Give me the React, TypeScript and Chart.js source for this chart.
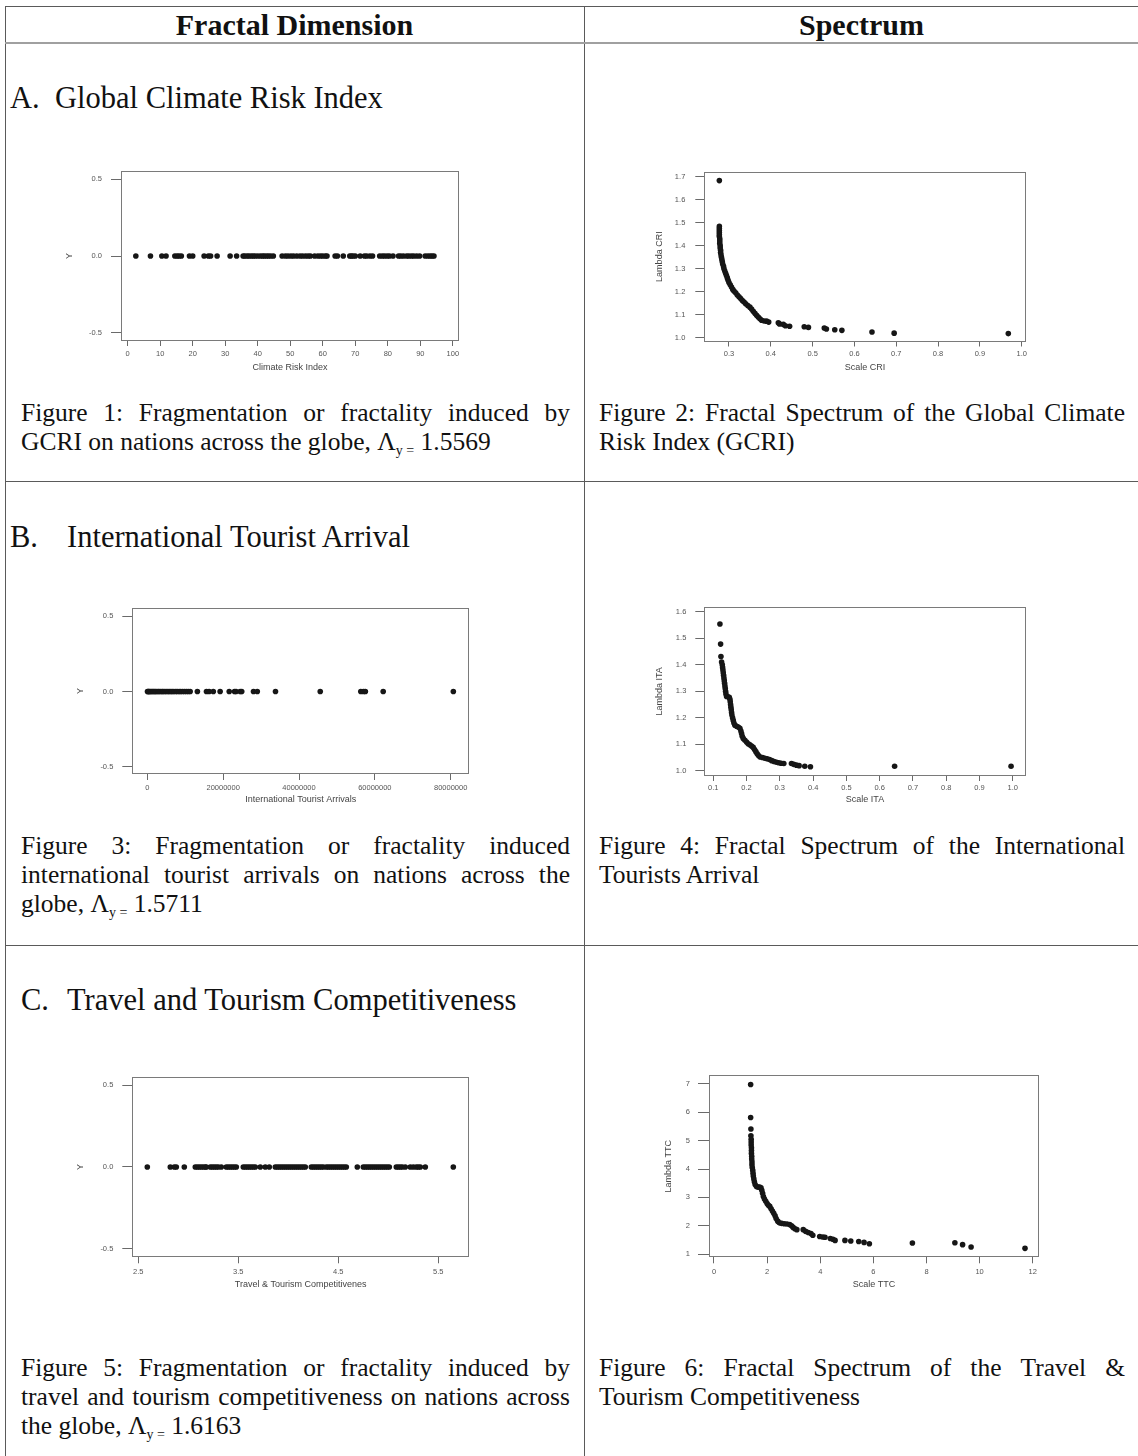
import React, { useEffect, useRef } from "react";
import { Chart, registerables } from "chart.js";

Chart.register(...registerables);

// ---------------- DATA ----------------
// Figure 1: Global Climate Risk Index (strip plot, Y = 0)
const criIndex = [
  2.5, 7.0, 10.5, 11.8, 14.5, 15.2, 15.8, 16.5, 19.0, 20.0, 23.5, 24.8, 25.5, 27.5, 31.5, 33.5,
  35.5, 36.0, 36.7, 37.3, 38.0, 38.6, 39.2, 40.0, 40.8, 41.5, 42.0, 42.7, 43.3, 44.0, 44.8,
  47.5, 48.5, 49.3, 50.2, 51.0, 52.0, 53.0, 53.8, 54.7, 55.5, 56.2, 57.5, 58.5, 59.3, 60.0,
  60.8, 61.3, 63.8, 64.5, 66.3, 68.3, 68.8, 69.3, 70.0, 71.5, 72.8, 73.5, 74.5, 75.3, 77.5,
  78.3, 79.0, 79.8, 80.5, 81.6, 83.3, 84.0, 84.8, 85.8, 86.5, 87.3, 88.0, 88.9, 89.8, 91.5,
  92.3, 93.0, 93.6, 94.2,
];
const criTicks = [0, 10, 20, 30, 40, 50, 60, 70, 80, 90, 100];

// Figure 3: International Tourist Arrivals (strip plot, Y = 0)
const itaArrivals = [
  0.05e6, 0.2e6, 0.4e6, 0.6e6, 0.9e6, 1.2e6, 1.5e6, 1.8e6, 2.1e6, 2.4e6, 2.8e6, 3.1e6, 3.5e6,
  3.9e6, 4.2e6, 4.6e6, 5.0e6, 5.4e6, 5.8e6, 6.2e6, 6.6e6, 7.0e6, 7.5e6, 7.9e6, 8.4e6, 8.8e6,
  9.3e6, 9.8e6, 10.3e6, 10.8e6, 11.3e6, 13.2e6, 15.6e6, 16.3e6, 17.4e6, 19.2e6, 21.6e6, 23.0e6,
  23.4e6, 24.5e6, 24.9e6, 28.0e6, 29.0e6, 33.8e6, 45.6e6, 56.3e6, 57.0e6, 57.5e6, 62.2e6, 80.7e6,
];
const itaTicks = [0, 20000000, 40000000, 60000000, 80000000];

// Figure 5: Travel & Tourism Competitiveness (strip plot, Y = 0)
const ttcScores = [
  2.59, 2.82, 2.86, 2.88, 2.96, 3.07, 3.09, 3.11, 3.13, 3.15, 3.17, 3.18, 3.22, 3.24, 3.26, 3.28,
  3.3, 3.33, 3.38, 3.4, 3.42, 3.44, 3.46, 3.48, 3.55, 3.57, 3.59, 3.61, 3.63, 3.65, 3.67, 3.72,
  3.77, 3.81, 3.87, 3.89, 3.91, 3.93, 3.95, 3.97, 3.99, 4.01, 4.03, 4.05, 4.07, 4.09, 4.11, 4.13,
  4.15, 4.17, 4.23, 4.25, 4.27, 4.29, 4.31, 4.33, 4.35, 4.38, 4.4, 4.42, 4.44, 4.46, 4.48, 4.5,
  4.52, 4.54, 4.56, 4.58, 4.69, 4.75, 4.77, 4.79, 4.81, 4.83, 4.85, 4.87, 4.89, 4.91, 4.93, 4.95,
  4.97, 4.99, 5.01, 5.08, 5.1, 5.12, 5.14, 5.17, 5.22, 5.25, 5.28, 5.3, 5.32, 5.37, 5.65,
];
const ttcTicks = [2.5, 3.5, 4.5, 5.5];

const stripYTicks = [-0.5, 0, 0.5];
const STRIP_Y = 0;

// Figure 2: Fractal spectrum of GCRI  [scale, lambda]
const criSpectrum: [number, number][] = [
  [0.277, 1.683],
  [0.277, 1.484], [0.277, 1.475], [0.277, 1.466], [0.277, 1.457], [0.277, 1.448], [0.277, 1.44],
  [0.278, 1.43], [0.278, 1.42], [0.278, 1.41], [0.279, 1.4], [0.279, 1.39], [0.28, 1.38], [0.28, 1.37],
  [0.281, 1.36], [0.282, 1.35], [0.283, 1.34], [0.284, 1.33], [0.285, 1.32], [0.287, 1.31], [0.288, 1.3],
  [0.29, 1.29], [0.292, 1.28], [0.294, 1.27], [0.296, 1.26], [0.298, 1.25], [0.3, 1.24], [0.303, 1.23],
  [0.306, 1.22], [0.309, 1.21], [0.312, 1.203], [0.316, 1.195], [0.32, 1.186], [0.324, 1.178],
  [0.328, 1.17], [0.332, 1.162], [0.336, 1.155], [0.34, 1.148], [0.345, 1.14], [0.35, 1.133],
  [0.354, 1.125], [0.358, 1.115], [0.362, 1.106], [0.366, 1.098], [0.37, 1.09], [0.374, 1.082],
  [0.378, 1.076], [0.384, 1.073], [0.39, 1.072], [0.395, 1.068],
  [0.418, 1.065], [0.421, 1.06], [0.43, 1.058], [0.435, 1.052], [0.445, 1.05], [0.48, 1.048],
  [0.49, 1.045], [0.528, 1.042], [0.533, 1.038], [0.553, 1.035], [0.57, 1.032], [0.642, 1.025],
  [0.695, 1.02], [0.968, 1.018],
];
const criScaleTicks = [0.3, 0.4, 0.5, 0.6, 0.7, 0.8, 0.9, 1.0];
const criLambdaTicks = [1.0, 1.1, 1.2, 1.3, 1.4, 1.5, 1.6, 1.7];

// Figure 4: Fractal spectrum of ITA  [scale, lambda]
const itaSpectrum: [number, number][] = [
  [0.12, 1.554], [0.122, 1.478], [0.123, 1.431], [0.125, 1.41], [0.127, 1.4], [0.128, 1.39],
  [0.129, 1.38], [0.13, 1.37], [0.131, 1.36], [0.132, 1.35], [0.133, 1.34], [0.134, 1.33],
  [0.135, 1.32], [0.136, 1.31], [0.137, 1.3], [0.138, 1.29], [0.14, 1.28], [0.144, 1.279],
  [0.148, 1.277], [0.15, 1.27], [0.151, 1.26], [0.152, 1.25], [0.153, 1.24], [0.154, 1.23],
  [0.155, 1.22], [0.156, 1.21], [0.158, 1.2], [0.16, 1.19], [0.162, 1.18], [0.165, 1.172],
  [0.17, 1.168], [0.175, 1.165], [0.18, 1.16], [0.183, 1.15], [0.185, 1.14], [0.187, 1.13],
  [0.19, 1.122], [0.195, 1.115], [0.2, 1.108], [0.205, 1.102], [0.21, 1.098], [0.215, 1.093],
  [0.22, 1.088], [0.224, 1.08], [0.228, 1.072], [0.232, 1.064], [0.236, 1.057], [0.241, 1.052],
  [0.248, 1.05], [0.255, 1.047], [0.262, 1.045], [0.269, 1.042], [0.276, 1.038], [0.283, 1.035],
  [0.29, 1.032], [0.297, 1.03], [0.304, 1.028], [0.312, 1.027], [0.335, 1.027], [0.342, 1.024],
  [0.35, 1.021], [0.358, 1.019], [0.375, 1.017], [0.392, 1.015], [0.645, 1.017], [0.995, 1.017],
];
const itaScaleTicks = [0.1, 0.2, 0.3, 0.4, 0.5, 0.6, 0.7, 0.8, 0.9, 1.0];
const itaLambdaTicks = [1.0, 1.1, 1.2, 1.3, 1.4, 1.5, 1.6];

// Figure 6: Fractal spectrum of TTC  [scale, lambda]
const ttcSpectrum: [number, number][] = [
  [1.38, 6.98], [1.38, 5.82], [1.39, 5.41], [1.39, 5.17], [1.4, 5.05], [1.4, 4.95], [1.4, 4.85],
  [1.41, 4.75], [1.41, 4.65], [1.41, 4.55], [1.42, 4.45], [1.42, 4.35], [1.43, 4.25], [1.43, 4.15],
  [1.44, 4.05], [1.46, 3.95], [1.47, 3.85], [1.48, 3.75], [1.5, 3.65], [1.52, 3.55], [1.55, 3.45],
  [1.6, 3.38], [1.66, 3.36], [1.72, 3.36], [1.77, 3.34], [1.8, 3.25], [1.83, 3.14], [1.86, 3.03],
  [1.9, 2.94], [1.95, 2.86], [2.0, 2.78], [2.05, 2.72], [2.1, 2.68], [2.15, 2.6], [2.2, 2.52],
  [2.25, 2.44], [2.3, 2.35], [2.34, 2.25], [2.4, 2.16], [2.46, 2.1], [2.55, 2.08], [2.65, 2.07],
  [2.75, 2.06], [2.85, 2.04], [2.92, 2.0], [2.98, 1.94], [3.05, 1.89], [3.12, 1.86], [3.36, 1.86],
  [3.45, 1.8], [3.55, 1.76], [3.65, 1.72], [3.72, 1.66], [3.98, 1.62], [4.1, 1.6], [4.18, 1.59],
  [4.38, 1.55], [4.48, 1.52], [4.56, 1.48], [4.93, 1.48], [5.15, 1.46], [5.45, 1.44], [5.65, 1.41],
  [5.85, 1.36], [7.47, 1.39], [9.07, 1.4], [9.36, 1.33], [9.68, 1.25], [11.71, 1.2],
];
const ttcScaleTicks = [0, 2, 4, 6, 8, 10, 12];
const ttcLambdaTicks = [1, 2, 3, 4, 5, 6, 7];

// ---------------- CHART ----------------
const PLOT_FONT = "'Liberation Sans', Arial, Helvetica, sans-serif";
const TITLE_SIZE = 9;
const TITLE_LH = TITLE_SIZE * 1.2;

type AxisSpec = {
  min: number; max: number; ticks: number[]; digits: number; title: string;
  tickLen: number; pad: number; titlePos: number;
};
type PlotSpec = {
  box: { l: number; t: number; r: number; b: number };
  points: [number, number][];
  x: AxisSpec;
  y: AxisSpec;
};

const boxPlugin = {
  id: "rbox",
  afterDraw(chart: any) {
    const { ctx, chartArea: a } = chart;
    ctx.save();
    ctx.strokeStyle = "#7a7a7a";
    ctx.lineWidth = 1;
    const l = Math.round(a.left) + 0.5;
    const t = Math.round(a.top) + 0.5;
    const r = Math.round(a.right) - 0.5;
    const b = Math.round(a.bottom) - 0.5;
    ctx.strokeRect(l, t, r - l, b - t);
    ctx.restore();
  },
};

function RPlot({ spec }: { spec: PlotSpec }) {
  const ref = useRef<HTMLCanvasElement>(null);
  const { box, x, y } = spec;
  const left = Math.floor(y.titlePos - 10);
  const top = Math.floor(box.t - 12);
  const right = Math.ceil(box.r + 26);
  const bottom = Math.ceil(x.titlePos + 10);
  const w = right - left;
  const h = bottom - top;

  useEffect(() => {
    const canvas = ref.current!;
    const tickFont = { family: PLOT_FONT, size: 7.5, lineHeight: 1 };
    const titleFont = { family: PLOT_FONT, size: TITLE_SIZE, lineHeight: 1.2 };
    const chart = new Chart(canvas, {
      type: "scatter",
      data: {
        datasets: [
          {
            data: spec.points.map(([px, py]) => ({ x: px, y: py })),
            pointRadius: 2.8,
            pointHoverRadius: 2.8,
            pointBackgroundColor: "#161616",
            pointBorderWidth: 0,
            pointBorderColor: "#161616",
          },
        ],
      },
      options: {
        animation: false,
        responsive: false,
        maintainAspectRatio: false,
        events: [],
        layout: { padding: { left: 0, top: box.t - top, right: right - box.r, bottom: 0 } },
        plugins: { legend: { display: false }, tooltip: { enabled: false }, title: { display: false } },
        scales: {
          x: {
            type: "linear",
            position: "bottom",
            min: x.min,
            max: x.max,
            afterFit: (s: any) => { s.height = bottom - box.b; },
            afterBuildTicks: (s: any) => { s.ticks = x.ticks.map((v) => ({ value: v })); },
            ticks: {
              callback: (v: any) => Number(v).toFixed(x.digits),
              font: tickFont,
              color: "#555",
              padding: x.pad,
              maxRotation: 0,
              minRotation: 0,
              autoSkip: false,
            },
            grid: { display: true, drawOnChartArea: false, drawTicks: true, tickLength: x.tickLen, color: "#6a6a6a", lineWidth: 1 },
            border: { display: false },
            title: {
              display: true, text: x.title, font: titleFont, color: "#444",
              padding: { top: 0, bottom: bottom - x.titlePos - TITLE_LH / 2 },
            },
          },
          y: {
            type: "linear",
            position: "left",
            min: y.min,
            max: y.max,
            afterFit: (s: any) => { s.width = box.l - left; },
            afterBuildTicks: (s: any) => { s.ticks = y.ticks.map((v) => ({ value: v })); },
            ticks: {
              callback: (v: any) => Number(v).toFixed(y.digits),
              font: tickFont,
              color: "#555",
              padding: y.pad,
              autoSkip: false,
            },
            grid: { display: true, drawOnChartArea: false, drawTicks: true, tickLength: y.tickLen, color: "#6a6a6a", lineWidth: 1 },
            border: { display: false },
            title: {
              display: true, text: y.title, font: titleFont, color: "#444",
              padding: { top: y.titlePos - left - TITLE_LH / 2, bottom: 0 },
            },
          },
        },
      } as any,
      plugins: [boxPlugin],
    });
    return () => chart.destroy();
  }, []);

  return (
    <canvas
      ref={ref}
      width={w}
      height={h}
      style={{ position: "absolute", left, top, width: w, height: h }}
    />
  );
}

const strip = (vals: number[]): [number, number][] => vals.map((v) => [v, STRIP_Y]);

const plots: PlotSpec[] = [
  {
    box: { l: 121, t: 170, r: 459, b: 341 },
    points: strip(criIndex),
    x: { min: -2.06, max: 101.9, ticks: criTicks, digits: 0, title: "Climate Risk Index", tickLen: 5, pad: 4.5, titlePos: 367.5 },
    y: { min: -0.552, max: 0.554, ticks: stripYTicks, digits: 1, title: "Y", tickLen: 10, pad: 9, titlePos: 70 },
  },
  {
    box: { l: 704.3, t: 170, r: 1025.7, b: 341.5 },
    points: criSpectrum,
    x: { min: 0.241, max: 1.0096, ticks: criScaleTicks, digits: 1, title: "Scale CRI", tickLen: 5, pad: 4, titlePos: 367.5 },
    y: { min: 0.9836, max: 1.7215, ticks: criLambdaTicks, digits: 1, title: "Lambda CRI", tickLen: 9, pad: 10, titlePos: 660 },
  },
  {
    box: { l: 132.3, t: 607.3, r: 469, b: 774 },
    points: strip(itaArrivals),
    x: { min: -3.96e6, max: 84.83e6, ticks: itaTicks, digits: 0, title: "International Tourist Arrivals", tickLen: 6, pad: 4.5, titlePos: 800 },
    y: { min: -0.548, max: 0.556, ticks: stripYTicks, digits: 1, title: "Y", tickLen: 10, pad: 9, titlePos: 80.7 },
  },
  {
    box: { l: 704.3, t: 606.3, r: 1025.7, b: 776 },
    points: itaSpectrum,
    x: { min: 0.073, max: 1.039, ticks: itaScaleTicks, digits: 1, title: "Scale ITA", tickLen: 5, pad: 3.5, titlePos: 800 },
    y: { min: 0.98, max: 1.619, ticks: itaLambdaTicks, digits: 1, title: "Lambda ITA", tickLen: 9, pad: 9, titlePos: 660 },
  },
  {
    box: { l: 132.3, t: 1076.3, r: 469, b: 1257.3 },
    points: strip(ttcScores),
    x: { min: 2.44, max: 5.807, ticks: ttcTicks, digits: 1, title: "Travel & Tourism Competitivenes", tickLen: 6, pad: 5.2, titlePos: 1285 },
    y: { min: -0.552, max: 0.551, ticks: stripYTicks, digits: 1, title: "Y", tickLen: 10, pad: 9, titlePos: 80.7 },
  },
  {
    box: { l: 709, t: 1075.3, r: 1039, b: 1257.3 },
    points: ttcSpectrum,
    x: { min: -0.188, max: 12.237, ticks: ttcScaleTicks, digits: 0, title: "Scale TTC", tickLen: 6, pad: 5.2, titlePos: 1285 },
    y: { min: 0.884, max: 7.307, ticks: ttcLambdaTicks, digits: 0, title: "Lambda TTC", tickLen: 11, pad: 8, titlePos: 669 },
  },
];

// ---------------- PAGE TEXT ----------------
const SERIF = "'Liberation Serif', 'Times New Roman', Times, serif";
const CAP_SIZE = 25.5;
const LINE_COLOR = "#5a5a5a";

function Lam({ v }: { v: string }) {
  return (
    <span>
      Λ<span style={{ fontSize: 14, position: "relative", top: 5 }}>y =</span> {v}
    </span>
  );
}

function JLine({ text, left, width, center }: { text: string; left: number; width: number; center: number }) {
  const words = text.split(" ");
  return (
    <div
      style={{
        position: "absolute", left, width, top: center - 15, height: 30, lineHeight: "30px",
        display: "flex", justifyContent: "space-between", fontSize: CAP_SIZE, whiteSpace: "nowrap",
      }}
    >
      {words.map((wd, i) => (
        <span key={i}>{wd}</span>
      ))}
    </div>
  );
}

function PLine({ children, left, center }: { children: React.ReactNode; left: number; center: number }) {
  return (
    <div
      style={{
        position: "absolute", left, top: center - 15, height: 30, lineHeight: "30px",
        fontSize: CAP_SIZE, whiteSpace: "nowrap",
      }}
    >
      {children}
    </div>
  );
}

function Big({ children, left, center, bold }: { children: React.ReactNode; left: number; center: number; bold?: boolean }) {
  return (
    <div
      style={{
        position: "absolute", left, top: center - 18, height: 36, lineHeight: "36px",
        fontSize: bold ? 30 : 30.5, fontWeight: bold ? "bold" : "normal", whiteSpace: "nowrap",
      }}
    >
      {children}
    </div>
  );
}

function HLine({ top, color = LINE_COLOR, h = 1 }: { top: number; color?: string; h?: number }) {
  return <div style={{ position: "absolute", left: 5, top, width: 1133, height: h, background: color }} />;
}
function VLine({ left }: { left: number }) {
  return <div style={{ position: "absolute", left, top: 6, width: 1, height: 1450, background: LINE_COLOR }} />;
}

const LC = { left: 21, width: 549 };
const RC = { left: 599, width: 526 };

export default function App() {
  return (
    <div
      style={{
        position: "absolute", left: 0, top: 0, width: 1138, height: 1456, background: "#fff",
        fontFamily: SERIF, color: "#111", overflow: "hidden",
      }}
    >
      <HLine top={6} />
      <VLine left={5} />
      <VLine left={584} />
      <HLine top={42} color="#a0a0a0" h={2} />
      <HLine top={481} />
      <HLine top={945} />

      <div style={{ position: "absolute", left: 5, width: 579, top: 7, height: 36, lineHeight: "36px", textAlign: "center", fontSize: 30, fontWeight: "bold" }}>
        Fractal Dimension
      </div>
      <div style={{ position: "absolute", left: 585, width: 553, top: 7, height: 36, lineHeight: "36px", textAlign: "center", fontSize: 30, fontWeight: "bold" }}>
        Spectrum
      </div>

      {/* Section A */}
      <Big left={10} center={98}>A.</Big>
      <Big left={55} center={98}>Global Climate Risk Index</Big>
      <JLine text="Figure 1: Fragmentation or fractality induced by" left={LC.left} width={LC.width} center={413} />
      <PLine left={LC.left} center={442}>
        GCRI on nations across the globe, <Lam v="1.5569" />
      </PLine>
      <JLine text="Figure 2: Fractal Spectrum of the Global Climate" left={RC.left} width={RC.width} center={413} />
      <PLine left={RC.left} center={442}>Risk Index (GCRI)</PLine>

      {/* Section B */}
      <Big left={10} center={537}>B.</Big>
      <Big left={67} center={537}>International Tourist Arrival</Big>
      <JLine text="Figure 3: Fragmentation or fractality induced" left={LC.left} width={LC.width} center={846} />
      <JLine text="international tourist arrivals on nations across the" left={LC.left} width={LC.width} center={875} />
      <PLine left={LC.left} center={904}>
        globe, <Lam v="1.5711" />
      </PLine>
      <JLine text="Figure 4: Fractal Spectrum of the International" left={RC.left} width={RC.width} center={846} />
      <PLine left={RC.left} center={875}>Tourists Arrival</PLine>

      {/* Section C */}
      <Big left={21} center={1000}>C.</Big>
      <Big left={67} center={1000}>Travel and Tourism Competitiveness</Big>
      <JLine text="Figure 5: Fragmentation or fractality induced by" left={LC.left} width={LC.width} center={1368} />
      <JLine text="travel and tourism competitiveness on nations across" left={LC.left} width={LC.width} center={1397} />
      <PLine left={LC.left} center={1426}>
        the globe, <Lam v="1.6163" />
      </PLine>
      <JLine text="Figure 6: Fractal Spectrum of the Travel &" left={RC.left} width={RC.width} center={1368} />
      <PLine left={RC.left} center={1397}>Tourism Competitiveness</PLine>

      {plots.map((p, i) => (
        <RPlot key={i} spec={p} />
      ))}
    </div>
  );
}
